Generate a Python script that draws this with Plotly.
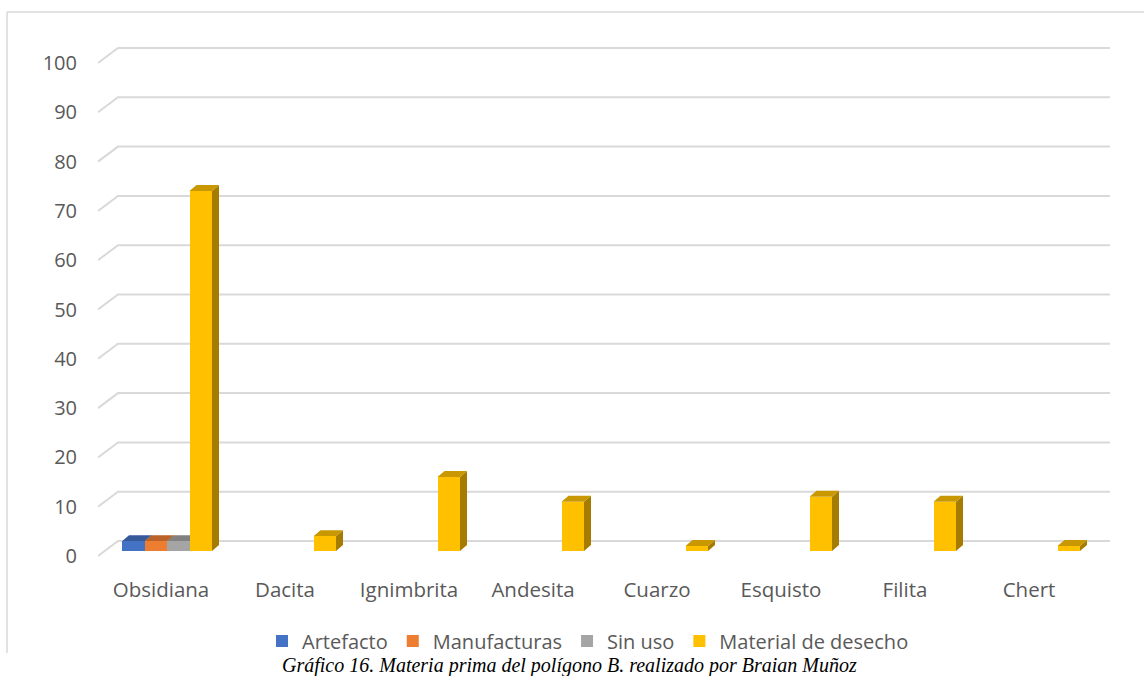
import plotly.graph_objects as go

# --- data -------------------------------------------------------------
categories = ["Obsidiana", "Dacita", "Ignimbrita", "Andesita",
              "Cuarzo", "Esquisto", "Filita", "Chert"]
series_names = ["Artefacto", "Manufacturas", "Sin uso", "Material de desecho"]
artefacto = [2, 0, 0, 0, 0, 0, 0, 0]
manufacturas = [2, 0, 0, 0, 0, 0, 0, 0]
sin_uso = [2, 0, 0, 0, 0, 0, 0, 0]
material_desecho = [73, 3, 15, 10, 1, 11, 10, 1]
y_ticks = [0, 10, 20, 30, 40, 50, 60, 70, 80, 90, 100]
caption = "Gráfico 16. Materia prima del polígono B. realizado por Braian Muñoz"

series_values = [artefacto, manufacturas, sin_uso, material_desecho]

# --- style ------------------------------------------------------------
front_colors = ["#4472C4", "#ED7D31", "#A5A5A5", "#FFC000"]
top_colors = ["#36599A", "#BA6227", "#818181", "#C99700"]
side_colors = ["#2C4A80", "#9C5220", "#6E6E6E", "#A67C00"]
text_color = "#595959"
grid_color = "#D9D9D9"

# --- geometry (pixels) ------------------------------------------------
W, H = 1144, 676
PLOT_L, PLOT_R, PLOT_T, PLOT_B = 98, 1110, 40, 560
CAT_PX = 124        # distance between categories
CAT0_PX = 161       # pixel x of first category label
UNIT_PX = 4.93      # pixels per value unit
ZERO_PX = 551       # pixel y of value 0 on the bar plane
BAR_PX = 22.5       # width of a single bar
GROUP_OFF_PX = -39  # left edge of the bar group relative to the label centre
DEPTH_X, DEPTH_Y = 7, 6  # 3-D depth of the bars
WALL_X, WALL_FRONT, WALL_BACK = 20, -5, 10  # floor/back-wall offsets of grid

x_range = [(PLOT_L - CAT0_PX) / CAT_PX, (PLOT_R - CAT0_PX) / CAT_PX]
y_range = [-(PLOT_B - ZERO_PX) / UNIT_PX, (ZERO_PX - PLOT_T) / UNIT_PX]

bar_w = BAR_PX / CAT_PX
dxu = DEPTH_X / CAT_PX
dyu = DEPTH_Y / UNIT_PX


def paper_x(px):
    return (px - PLOT_L) / (PLOT_R - PLOT_L)


def paper_y(py):
    return (PLOT_B - py) / (PLOT_B - PLOT_T)


fig = go.Figure()
shapes = []

# perspective gridlines: short diagonal on the left, then along the back wall
for v in y_ticks:
    x0 = x_range[0]
    x1 = x0 + WALL_X / CAT_PX
    x2 = x_range[1]
    yf = v + WALL_FRONT / UNIT_PX
    yb = v + WALL_BACK / UNIT_PX
    shapes.append(dict(type="path", xref="x", yref="y", layer="below",
                       path=f"M{x0},{yf} L{x1},{yb} L{x2},{yb}",
                       line=dict(color=grid_color, width=2)))

# bars (front faces) with their top and side faces
for i, (name, vals) in enumerate(zip(series_names, series_values)):
    off = (GROUP_OFF_PX + BAR_PX * i + BAR_PX / 2) / CAT_PX
    xs = [k + off for k in range(len(categories))]
    fig.add_trace(go.Bar(
        x=xs, y=vals, width=bar_w, name=name,
        marker=dict(color=front_colors[i], line=dict(width=0)),
        hovertext=categories, hoverinfo="text+y+name",
    ))
    for xc, v in zip(xs, vals):
        if v <= 0:
            continue
        xl, xr = xc - bar_w / 2, xc + bar_w / 2
        shapes.append(dict(
            type="path", xref="x", yref="y", layer="below",
            path=(f"M{xr},0 L{xr + dxu},{dyu} L{xr + dxu},{v + dyu} "
                  f"L{xr},{v} Z"),
            fillcolor=side_colors[i], line=dict(width=0)))
        shapes.append(dict(
            type="path", xref="x", yref="y", layer="below",
            path=(f"M{xl},{v} L{xr},{v} L{xr + dxu},{v + dyu} "
                  f"L{xl + dxu},{v + dyu} Z"),
            fillcolor=top_colors[i], line=dict(width=0)))

# chart-area border (top and left edges)
shapes.append(dict(type="line", xref="paper", yref="paper",
                   x0=paper_x(7), x1=paper_x(1144), y0=paper_y(12), y1=paper_y(12),
                   line=dict(color=grid_color, width=1.5)))
shapes.append(dict(type="line", xref="paper", yref="paper",
                   x0=paper_x(7), x1=paper_x(7), y0=paper_y(12), y1=paper_y(653),
                   line=dict(color=grid_color, width=1.5)))

fig.update_layout(
    width=W, height=H,
    margin=dict(l=PLOT_L, r=W - PLOT_R, t=PLOT_T, b=H - PLOT_B),
    paper_bgcolor="white", plot_bgcolor="white",
    barmode="overlay", bargap=0,
    font=dict(family="Open Sans", size=20, color=text_color),
    shapes=shapes,
    showlegend=True,
    legend=dict(orientation="h", xanchor="center", yanchor="middle",
                x=paper_x(588), y=paper_y(641),
                font=dict(size=20, color=text_color),
                bgcolor="rgba(0,0,0,0)"),
    xaxis=dict(range=x_range, tickmode="array",
               tickvals=list(range(len(categories))), ticktext=categories,
               tickfont=dict(size=20.5),
               showgrid=False, zeroline=False, showline=False, ticks="",
               ticklabelstandoff=15, fixedrange=True),
    yaxis=dict(range=y_range, tickmode="array", tickvals=y_ticks,
               showgrid=False, zeroline=False, showline=False, ticks="",
               ticklabelstandoff=20, ticklabelshift=5, fixedrange=True),
    annotations=[dict(
        text=f"<i>{caption}</i>", xref="paper", yref="paper",
        x=paper_x(569), y=paper_y(665), xanchor="center", yanchor="middle",
        showarrow=False,
        font=dict(family="Liberation Serif", size=20, color="#000000"))],
)

fig.write_html("out.html")
